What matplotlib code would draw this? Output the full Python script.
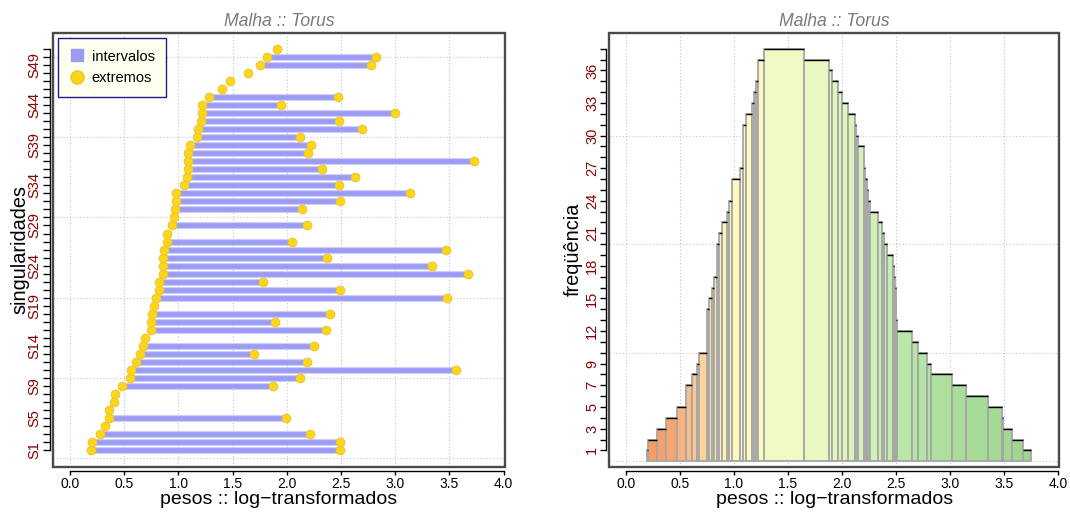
import numpy as np
import matplotlib
matplotlib.use("Agg")
import matplotlib.pyplot as plt
from matplotlib.colors import LinearSegmentedColormap
from matplotlib.patches import Rectangle
from matplotlib.lines import Line2D

plt.rcParams['font.family'] = ['Liberation Sans', 'DejaVu Sans']

# --- intervalos de peso por singularidade (log-transformados) ---
singularidades = [f"S{i}" for i in range(1, 52)]
inferior = [0.19, 0.20, 0.28, 0.32, 0.36, 0.363, 0.409, 0.415, 0.48, 0.55,
            0.56, 0.61, 0.65, 0.67, 0.689, 0.75, 0.75, 0.76, 0.772, 0.79,
            0.82, 0.82, 0.86, 0.86, 0.86, 0.87, 0.89, 0.892, 0.94, 0.96,
            0.97, 0.98, 0.98, 1.05, 1.08, 1.09, 1.09, 1.09, 1.11, 1.17,
            1.18, 1.21, 1.22, 1.22, 1.28, 1.399, 1.476, 1.645, 1.75, 1.82,
            1.907]
superior = [2.49, 2.49, 2.21, 0.32, 1.99, 0.363, 0.409, 0.415, 1.87, 2.12,
            3.56, 2.19, 1.70, 2.25, 0.689, 2.36, 1.89, 2.40, 0.772, 3.48,
            2.49, 1.78, 3.67, 3.34, 2.37, 3.47, 2.05, 0.892, 2.19, 0.96,
            2.14, 2.49, 3.14, 2.48, 2.63, 2.32, 3.73, 2.20, 2.22, 2.12,
            2.69, 2.48, 3.00, 1.95, 2.47, 1.399, 1.476, 1.645, 2.78, 2.82,
            1.907]
rotulos_y = ["S1", "S5", "S9", "S14", "S19", "S24", "S29", "S34", "S39", "S44", "S49"]

# --- histograma de frequências ---
hist_bordas = [0.200, 0.209, 0.286, 0.370, 0.477, 0.557, 0.610, 0.656, 0.675, 0.749,
               0.767, 0.795, 0.816, 0.847, 0.866, 0.894, 0.934, 0.955, 0.980, 1.057,
               1.082, 1.088, 1.112, 1.165, 1.190, 1.205, 1.226, 1.279, 1.652, 1.883,
               1.910, 1.960, 1.997, 2.059, 2.120, 2.132, 2.151, 2.200, 2.206, 2.213,
               2.228, 2.243, 2.259, 2.336, 2.367, 2.390, 2.413, 2.475, 2.484, 2.493,
               2.496, 2.499, 2.502, 2.505, 2.644, 2.700, 2.789, 2.826, 3.014, 3.149,
               3.350, 3.483, 3.490, 3.575, 3.677, 3.745]
hist_freq = [1, 2, 3, 4, 5, 7, 8, 9, 10, 14,
             15, 16, 17, 20, 21, 22, 23, 24, 26, 27,
             28, 31, 32, 33, 34, 35, 37, 38, 37, 36,
             35, 34, 33, 32, 31, 30, 29, 28, 27, 26,
             25, 24, 23, 22, 21, 20, 19, 18, 17, 16,
             15, 14, 13, 12, 11, 10, 9, 8, 7, 6,
             5, 4, 3, 2, 1]
freq_rotulos = [1, 3, 5, 7, 9, 12, 15, 18, 21, 24, 27, 30, 33, 36]

x_ticks = np.arange(0, 4.01, 0.5)
x_rotulos = [f"{v:.1f}" for v in x_ticks]

COR_ROTULO = "#8B0000"
COR_BARRA = "#9b9bf5"
COR_PONTO = "#FFD517"

# escala de cores do histograma, ancorada em valores de peso
PESO_CORES = [(0.20, "#f59a65"), (0.45, "#f8a673"), (0.55, "#fbbb86"),
              (0.70, "#fdd39b"), (0.82, "#ffe9ad"), (0.95, "#fff8be"),
              (1.20, "#fbfbc2"), (1.45, "#effac3"), (1.80, "#e8f8c0"),
              (2.10, "#dcf4ba"), (2.35, "#cdefb2"), (2.55, "#bae8a8"),
              (3.00, "#aade9c"), (3.75, "#9dd68e")]

fig = plt.figure(figsize=(10.7, 5.13), dpi=100)
W, H = 1070.0, 513.0
ax1 = fig.add_axes([52.7 / W, 1 - 466.5 / H, 452.3 / W, 433.8 / H])
ax2 = fig.add_axes([609.3 / W, 1 - 466.5 / H, 450.0 / W, 433.8 / H])


def moldura(ax, xlim, ylim, ybounds, hgrid):
    ax.set_xlim(*xlim)
    ax.set_ylim(*ylim)
    for v in x_ticks:
        cor = "#c6c6c6" if float(v).is_integer() else "#b9b9f2"
        ax.axvline(v, color=cor, ls=(0, (1, 2)), lw=0.8, zorder=0)
    for h in hgrid:
        ax.axhline(h, color="#c6c6c6", ls=(0, (1, 2)), lw=0.8, zorder=0)
    for s in ("top", "right"):
        ax.spines[s].set_visible(False)
    ax.spines["left"].set_position(("outward", 2.2))
    ax.spines["bottom"].set_position(("outward", 3.2))
    ax.spines["bottom"].set_bounds(0, 4)
    ax.spines["left"].set_bounds(*ybounds)
    for s in ("left", "bottom"):
        ax.spines[s].set_linewidth(1.0)
    ax.add_patch(Rectangle((0, 0), 1, 1, transform=ax.transAxes, fill=False,
                           ec="#4a4a4a", lw=1.7, clip_on=False, zorder=6))
    ax.set_xticks(x_ticks)
    ax.set_xticklabels(x_rotulos)
    ax.tick_params(axis="x", length=3.2, width=1.0, pad=1.0, labelsize=10)
    ax.set_title("Malha :: Torus", fontstyle="italic", color="#7a7a7a",
                 fontsize=12.7, pad=5)
    ax.set_xlabel("pesos :: log\u2212transformados", fontsize=14)
    ax.xaxis.set_label_coords(0.5, -0.0575)
    ax.xaxis.label.set_va("top")


# ---------------- painel esquerdo: intervalos ----------------
linhas = np.arange(1, len(singularidades) + 1)
lo = np.array(inferior)
hi = np.array(superior)
tem_intervalo = hi > lo

moldura(ax1, (-0.16, 4.013), (-1, 53), (1, 51), range(0, 51, 10))
ax1.hlines(linhas[tem_intervalo], lo[tem_intervalo], hi[tem_intervalo],
           color="#cdcdf8", lw=5.0, zorder=2)
ax1.hlines(linhas[tem_intervalo], lo[tem_intervalo], hi[tem_intervalo],
           color=COR_BARRA, lw=3.4, zorder=2)
ax1.plot(lo, linhas, "o", ms=6.3, mfc=COR_PONTO, mec="#e9c536", mew=0.7, zorder=3)
ax1.plot(hi[tem_intervalo], linhas[tem_intervalo], "o", ms=6.3, mfc=COR_PONTO,
         mec="#e9c536", mew=0.7, zorder=3)

ax1.set_yticks(linhas)
ax1.set_yticklabels([s if s in rotulos_y else "" for s in singularidades],
                    rotation=90, va="center", color=COR_ROTULO, fontsize=10.5)
ax1.tick_params(axis="y", length=4.8, width=1.0, pad=1.2)
ax1.set_ylabel("singularidades", fontsize=14.3)
ax1.yaxis.set_label_coords(-0.052, 0.5)

leg = ax1.legend(
    handles=[Line2D([], [], marker="s", ls="", mfc=COR_BARRA, mec=COR_BARRA, ms=8.5),
             Line2D([], [], marker="o", ls="", mfc=COR_PONTO, mec="#e9c536", ms=9.5)],
    labels=["intervalos", "extremos"], loc="upper left",
    bbox_to_anchor=(0.0117, 0.988), borderaxespad=0, fontsize=10.5,
    frameon=True, fancybox=False, framealpha=1, edgecolor="#1b1b8a",
    facecolor="#fffff0", handlelength=1.0, handletextpad=0.5,
    labelspacing=0.5, borderpad=0.8)
leg.get_frame().set_linewidth(1.0)
leg.set_zorder(7)

# ---------------- painel direito: histograma ----------------
moldura(ax2, (-0.152, 4.009), (-0.48, 39.48), (1, 38), range(0, 31, 10))
bordas = np.array(hist_bordas)
freq = np.array(hist_freq)
meio = (bordas[:-1] + bordas[1:]) / 2
p0, p1 = PESO_CORES[0][0], PESO_CORES[-1][0]
paleta = LinearSegmentedColormap.from_list(
    "pesos", [((p - p0) / (p1 - p0), c) for p, c in PESO_CORES])
cores = paleta(np.clip((meio - p0) / (p1 - p0), 0, 1))
ax2.bar(bordas[:-1], freq, width=np.diff(bordas), align="edge", color=cores,
        edgecolor="#a6a6a6", lw=1.3, zorder=2)
ax2.hlines(freq, bordas[:-1], bordas[1:], color="black", lw=1.0, zorder=3)

ax2.set_yticks(range(1, 39))
ax2.set_yticklabels([str(v) if v in freq_rotulos else "" for v in range(1, 39)],
                    rotation=90, va="center", color=COR_ROTULO, fontsize=10.5)
ax2.tick_params(axis="y", length=4.2, width=1.0, pad=1.0)
ax2.set_ylabel("freqüência", fontsize=14.3)
ax2.yaxis.set_label_coords(-0.0585, 0.5)

fig.savefig("out.png", dpi=100, facecolor="white")
